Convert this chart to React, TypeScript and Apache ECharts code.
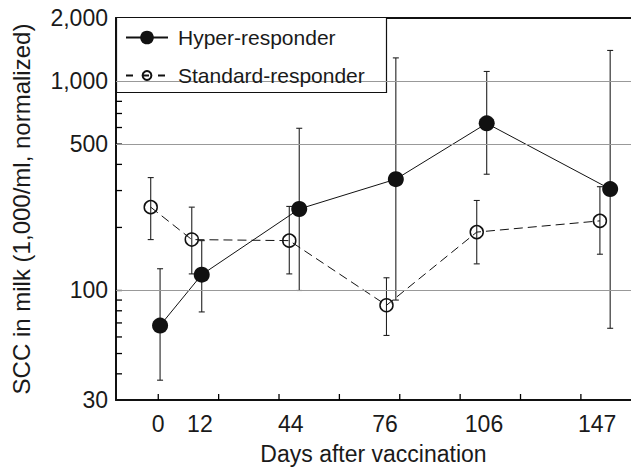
import React, { useEffect, useRef } from "react";
import * as echarts from "echarts";

// ---- data ----
const dayLabels = ["0", "12", "44", "76", "106", "147"];
const labelPositions = [0, 13.8, 43.9, 75.1, 107.9, 145.4];
const xTickValues = [0, 20, 40, 60, 80, 100, 120, 140];

const hyperX = [0.6, 14.4, 46.7, 78.7, 108.8, 149.7];
const hyperMean = [68, 119, 245, 340, 628, 305];
const hyperHigh = [127, 173, 595, 1290, 1111, 1400];
const hyperLow = [37.3, 79, 100, 90, 359, 66];

const standardX = [-2.5, 11.1, 43.4, 75.6, 105.5, 146.3];
const standardMean = [250, 175, 173, 85, 190, 215];
const standardHigh = [346, 250, 252, 115, 269, 313];
const standardLow = [175, 120, 120, 61, 134, 149];

const yLabelValues = [30, 100, 500, 1000, 2000];
const yTickValues = [40, 50, 60, 70, 80, 90, 100, 200, 300, 400, 500, 600, 700, 800, 900, 1000];
const gridValues = [100, 500, 1000];
const yMin = 30;
const yMax = 2000;
const xMin = -14;
const xMax = 156.6;

const FONT = "'Liberation Sans', Arial, Helvetica, sans-serif";
const INK = "#1a1a1a";
const L = (v: number) => Math.log10(v);

function errorBarSeries(name: string, xs: number[], lo: number[], hi: number[]) {
  return {
    type: "custom",
    name,
    z: 2,
    silent: true,
    encode: { x: 0, y: [1, 2] },
    data: xs.map((x, i) => [x, L(lo[i]), L(hi[i])]),
    renderItem: (params: any, api: any) => {
      const x = api.value(0);
      const p1 = api.coord([x, api.value(1)]);
      const p2 = api.coord([x, api.value(2)]);
      const w = 3;
      const style = { stroke: "#222", lineWidth: 1.1 };
      return {
        type: "group",
        children: [
          { type: "line", shape: { x1: p1[0], y1: p1[1], x2: p2[0], y2: p2[1] }, style },
          { type: "line", shape: { x1: p1[0] - w, y1: p1[1], x2: p1[0] + w, y2: p1[1] }, style },
          { type: "line", shape: { x1: p2[0] - w, y1: p2[1], x2: p2[0] + w, y2: p2[1] }, style },
        ],
      };
    },
  };
}

function tickSeries(name: string, points: number[][], dir: "x" | "y") {
  return {
    type: "custom",
    name,
    z: 2,
    silent: true,
    encode: { x: 0, y: 1 },
    data: points,
    renderItem: (params: any, api: any) => {
      const p = api.coord([api.value(0), api.value(1)]);
      const len = 6;
      const shape =
        dir === "y"
          ? { x1: p[0], y1: p[1], x2: p[0] + len, y2: p[1] }
          : { x1: p[0], y1: p[1], x2: p[0], y2: p[1] - len };
      return { type: "line", shape, style: { stroke: "#000", lineWidth: 1.3 } };
    },
  };
}

export default function App() {
  const ref = useRef<HTMLDivElement>(null);
  useEffect(() => {
    if (!ref.current) return;
    const chart = echarts.init(ref.current, undefined, { renderer: "svg" });
    const option: any = {
      animation: false,
      backgroundColor: "#fff",
      textStyle: { fontFamily: FONT },
      grid: { left: 116, right: 0, top: 18, bottom: 64.7, containLabel: false },
      graphic: {
        elements: [
          {
            type: "rect",
            z: 5,
            shape: { x: 116.5, y: 17.5, width: 270, height: 75 },
            style: { fill: "#fff", stroke: "#111", lineWidth: 1.2 },
          },
        ],
      },
      legend: [
        {
          data: [{ name: "Hyper-responder" }],
          left: 125,
          top: 27,
          orient: "vertical",
          padding: 0,
          itemWidth: 42,
          itemHeight: 17,
          z: 10,
          selectedMode: false,
          textStyle: { fontSize: 21, color: INK, fontFamily: FONT, padding: [0, 0, 0, 5] },
        },
        {
          data: [{ name: "Standard-responder" }],
          left: 125,
          top: 65,
          orient: "vertical",
          padding: 0,
          itemWidth: 42,
          itemHeight: 11,
          z: 10,
          selectedMode: false,
          lineStyle: { type: [7, 9] },
          textStyle: { fontSize: 21, color: INK, fontFamily: FONT, padding: [0, 0, 0, 5] },
        },
      ],
      xAxis: [
        {
          type: "value",
          min: xMin,
          max: xMax,
          name: "Days after vaccination",
          nameLocation: "middle",
          nameGap: 42,
          nameTextStyle: { fontSize: 23, color: INK, fontFamily: FONT },
          axisLine: { show: true, onZero: false, lineStyle: { color: "#111", width: 2 } },
          axisTick: { show: false },
          axisLabel: {
            show: true,
            customValues: labelPositions,
            margin: 12,
            fontSize: 23,
            color: INK,
            fontFamily: FONT,
            formatter: (v: number) => {
              const i = labelPositions.findIndex((p) => Math.abs(p - v) < 1e-6);
              return i >= 0 ? dayLabels[i] : "";
            },
          },
          splitLine: { show: false },
        },
        {
          type: "value",
          position: "top",
          min: xMin,
          max: xMax,
          axisLine: { show: true, onZero: false, lineStyle: { color: "#111", width: 2 } },
          axisTick: { show: false },
          axisLabel: { show: false },
          splitLine: { show: false },
        },
      ],
      yAxis: {
        type: "value",
        min: L(yMin),
        max: L(yMax),
        name: "SCC in milk (1,000/ml, normalized)",
        nameLocation: "middle",
        nameGap: 83,
        nameTextStyle: { fontSize: 24, color: INK, fontFamily: FONT },
        axisLine: { show: true, onZero: false, lineStyle: { color: "#111", width: 2 } },
        axisTick: { show: false },
        axisLabel: {
          show: true,
          customValues: yLabelValues.map(L),
          margin: 8,
          fontSize: 23,
          color: INK,
          fontFamily: FONT,
          formatter: (v: number) => Math.round(Math.pow(10, v)).toLocaleString("en-US"),
        },
        splitLine: { show: false },
      },
      series: [
        tickSeries("yTicks", yTickValues.map((v) => [xMin, L(v)]), "y"),
        tickSeries("xTicks", xTickValues.map((v) => [v, L(yMin)]), "x"),
        errorBarSeries("hyperErr", hyperX, hyperLow, hyperHigh),
        errorBarSeries("standardErr", standardX, standardLow, standardHigh),
        {
          type: "line",
          name: "Standard-responder",
          z: 3,
          data: standardX.map((x, i) => [x, L(standardMean[i])]),
          symbol: "circle",
          symbolSize: 13,
          showSymbol: true,
          lineStyle: { color: "#111", width: 1, type: [9, 5] },
          itemStyle: { color: "rgba(255,255,255,0)", borderColor: "#111", borderWidth: 1.5 },
          markLine: {
            silent: true,
            symbol: "none",
            label: { show: false },
            lineStyle: { color: "#999", width: 1, type: "solid" },
            data: gridValues.map((v) => ({ yAxis: L(v) })),
          },
        },
        {
          type: "line",
          name: "Hyper-responder",
          z: 4,
          data: hyperX.map((x, i) => [x, L(hyperMean[i])]),
          symbol: "circle",
          symbolSize: 16,
          showSymbol: true,
          lineStyle: { color: "#111", width: 1, type: "solid" },
          itemStyle: { color: "#111", borderWidth: 0 },
        },
      ],
    };
    chart.setOption(option);
    return () => chart.dispose();
  }, []);
  return (
    <div
      ref={ref}
      style={{ position: "fixed", left: 0, top: 0, width: 631, height: 470, background: "#fff" }}
    />
  );
}
